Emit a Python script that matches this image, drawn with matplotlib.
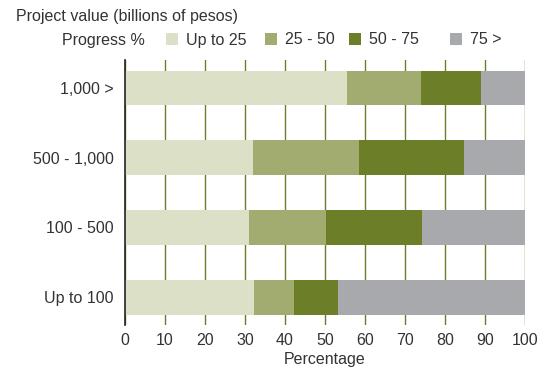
import matplotlib
matplotlib.use("Agg")
import matplotlib.pyplot as plt
from matplotlib.patches import Patch

categories = ["Up to 100", "100 - 500", "500 - 1,000", "1,000 >"]
series_labels = ["Up to 25", "25 - 50", "50 - 75", "75 >"]
up_to_25 = [32.3, 31.0, 32.0, 55.4]
p25_50 = [10.0, 19.2, 26.4, 18.6]
p50_75 = [11.0, 24.0, 26.3, 15.0]
over_75 = [46.7, 25.8, 15.3, 11.0]
x_ticks = [0, 10, 20, 30, 40, 50, 60, 70, 80, 90, 100]

colors = ["#dce0c7", "#a2ab70", "#6d7e29", "#a8a9ad"]
text_color = "#333333"
plt.rcParams["font.family"] = ["Liberation Sans", "DejaVu Sans"]

fig = plt.figure(figsize=(5.38, 3.71), dpi=100)
ax = fig.add_axes([0.2323, 0.124, 0.7435, 0.714])

left = [0.0] * len(categories)
for vals, color in zip([up_to_25, p25_50, p50_75, over_75], colors):
    ax.barh(range(len(categories)), vals, left=left, height=0.5, color=color, zorder=2)
    left = [l + v for l, v in zip(left, vals)]

ax.set_xlim(0, 100)
ax.set_ylim(-0.4, 3.4)
ax.set_xticks(x_ticks)
ax.set_yticks(range(len(categories)))
ax.set_yticklabels(categories)
ax.tick_params(length=0, labelsize=11.5, colors=text_color)
ax.tick_params(axis="y", pad=8)
ax.tick_params(axis="x", pad=6)
ax.xaxis.grid(True, color="#6d7e29", linewidth=1.0, zorder=1)
ax.set_axisbelow(True)
for side in ["top", "right", "bottom"]:
    ax.spines[side].set_visible(False)
ax.spines["left"].set_color("#222222")
ax.spines["left"].set_linewidth(1.2)
ax.spines["left"].set_zorder(3)

ax.set_xlabel("Percentage", fontsize=11.5, color=text_color, labelpad=3)

fig.text(16 / 538, 1 - 17 / 371, "Project value (billions of pesos)", fontsize=11.5,
         color=text_color, va="center", ha="left")
fig.text(62 / 538, 1 - 40 / 371, "Progress %", fontsize=11.5,
         color=text_color, va="center", ha="left")

# legend entries placed one by one to match the uneven spacing
legend_x = [166, 265, 349, 450]
for label, color, lx in zip(series_labels, colors, legend_x):
    leg = fig.legend([Patch(facecolor=color, edgecolor="none")], [label], frameon=False,
                     loc="center left", bbox_to_anchor=(lx / 538, 1 - 40 / 371),
                     fontsize=11.5, handlelength=0.75, handleheight=0.75,
                     handletextpad=0.5, borderaxespad=0, borderpad=0)
    for t in leg.get_texts():
        t.set_color(text_color)

fig.savefig("out.png", dpi=100)
